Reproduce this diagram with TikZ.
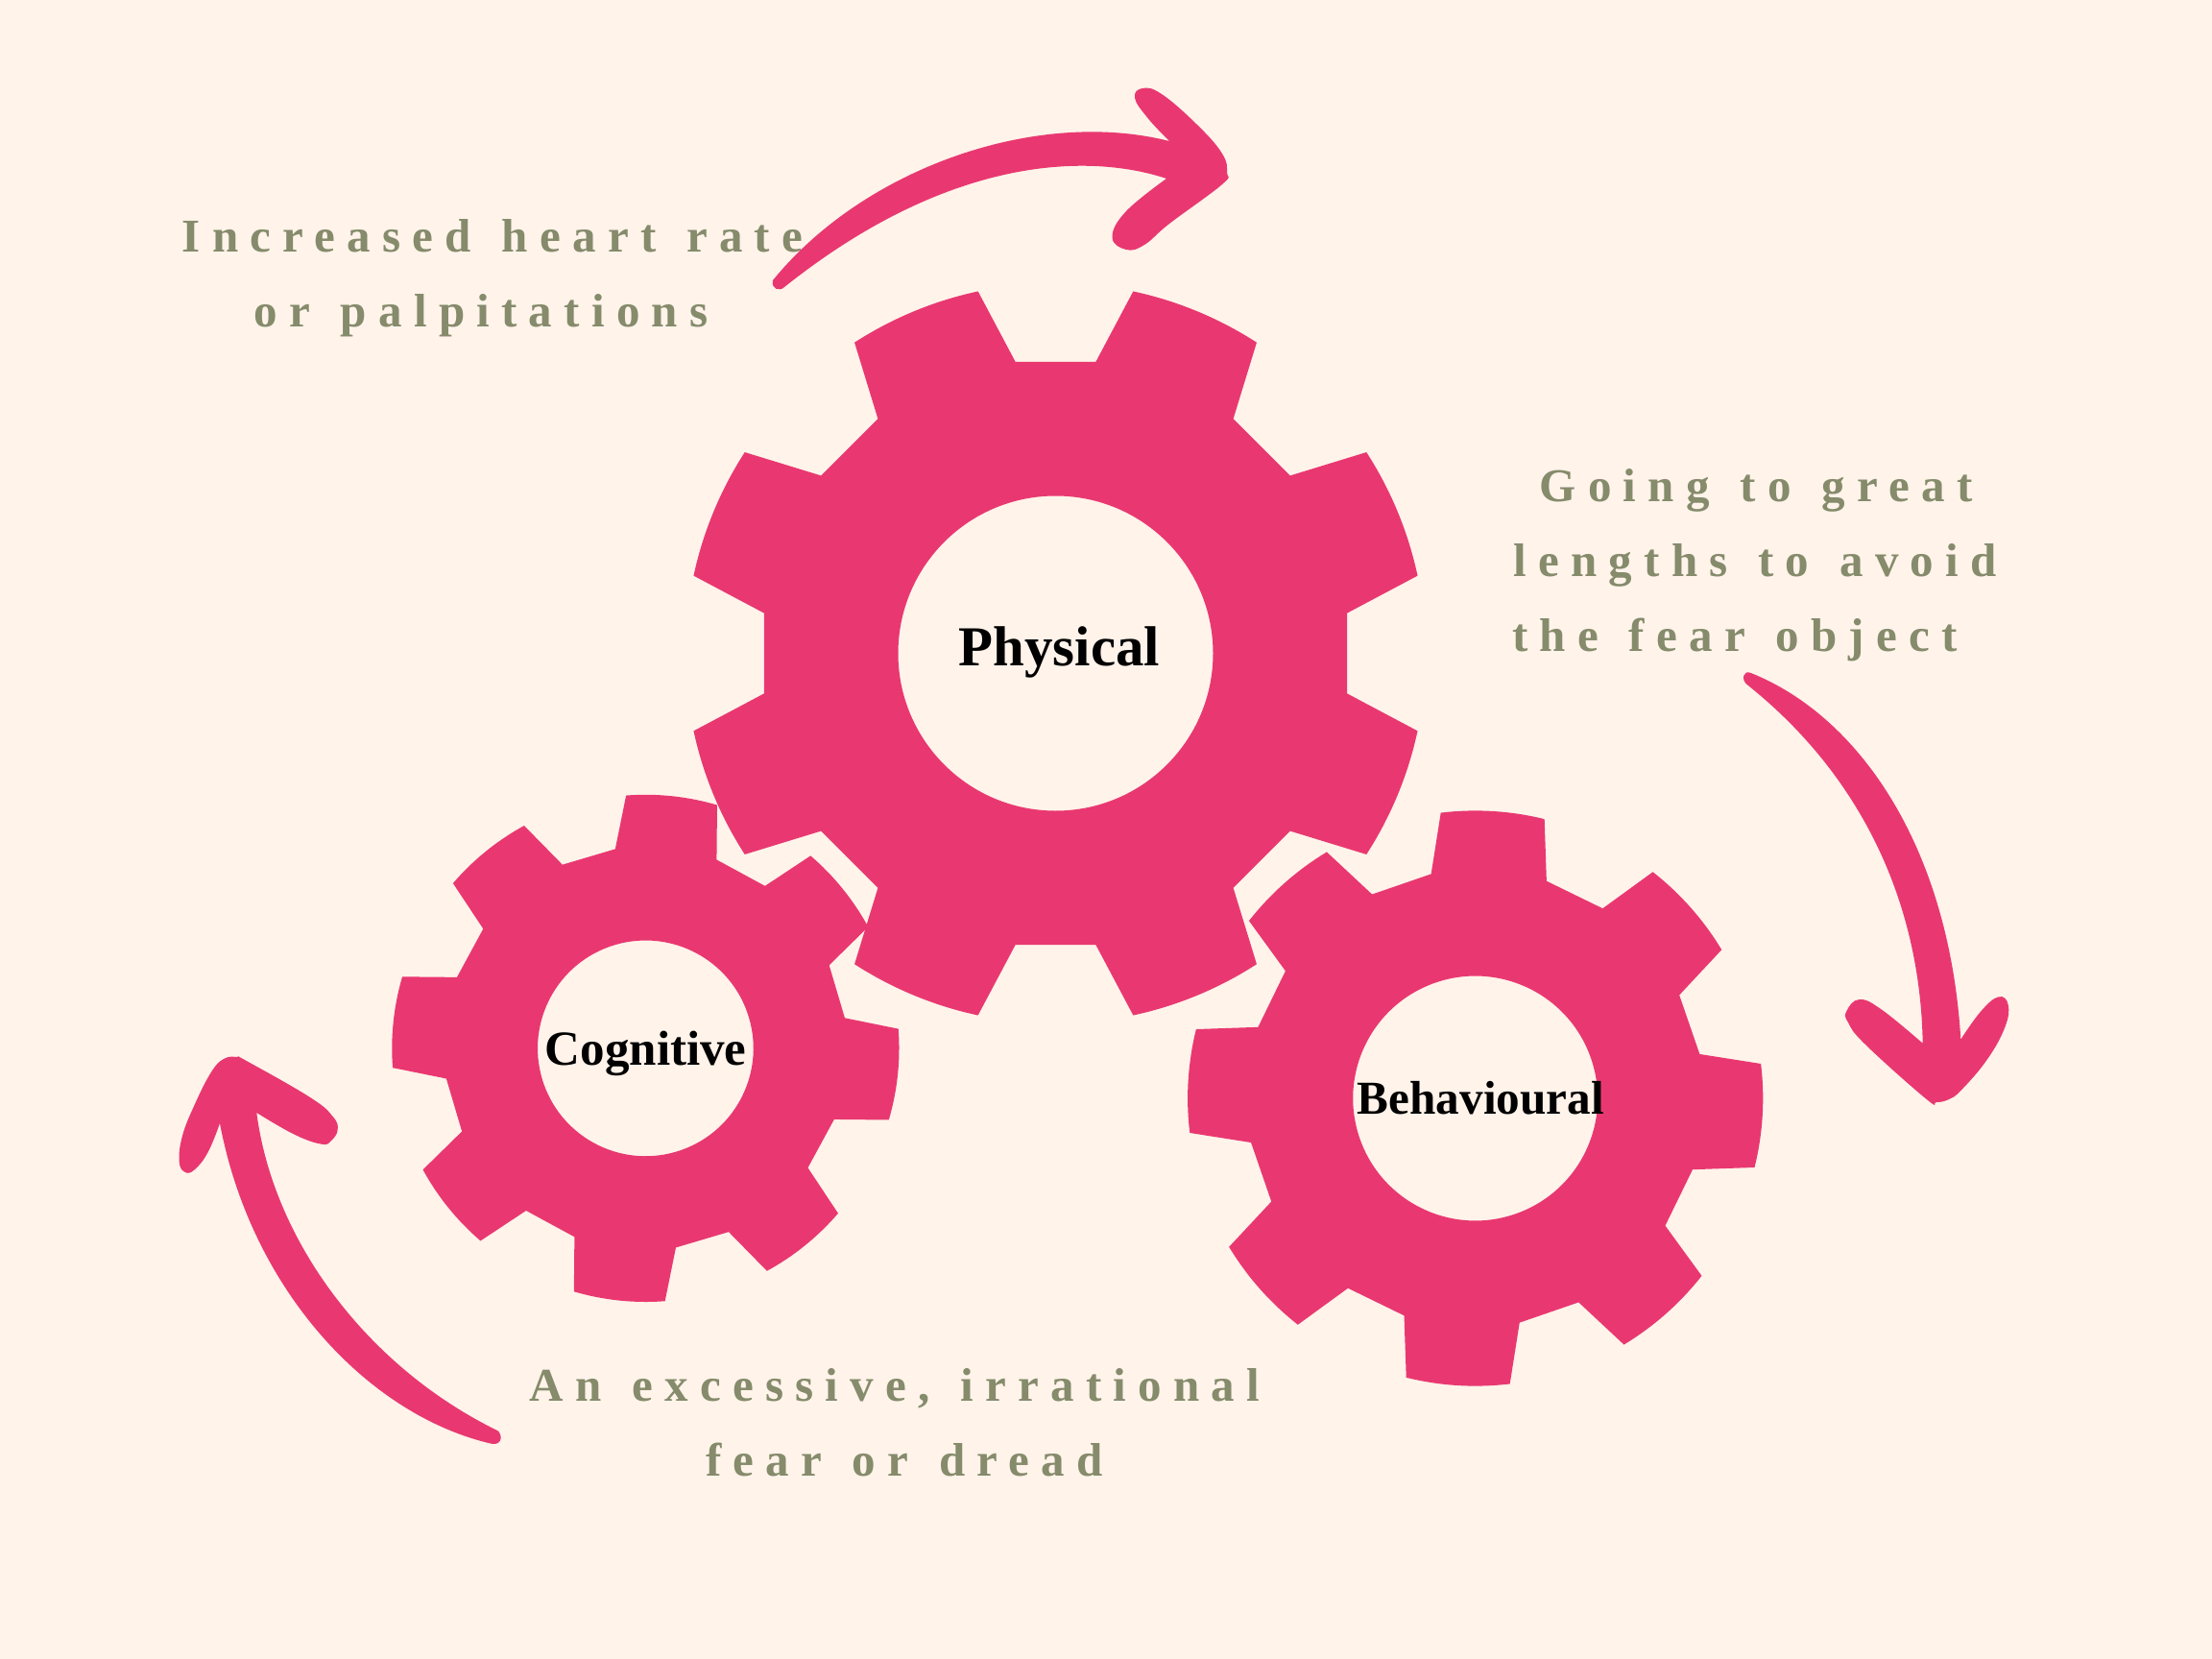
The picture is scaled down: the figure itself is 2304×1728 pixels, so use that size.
\documentclass[tikz,border=0pt]{standalone}
\usepackage{fontspec}
\setmainfont{Liberation Serif}
\newfontfamily\captionfont[LetterSpace=25,WordSpace=1.3]{Liberation Serif}
\usepackage{xcolor}
\definecolor{PageCream}{HTML}{FFF3EA}
\definecolor{GearPink}{HTML}{E93871}
\definecolor{CaptionOlive}{HTML}{858B6B}
\tikzset{
  gearfill/.style={fill=GearPink,even odd rule},
  swoosh/.style={fill=GearPink},
  gearlabel/.style={anchor=base,inner sep=0pt,text=black,font=\bfseries},
  caption/.style={anchor=base,inner sep=0pt,text=CaptionOlive,
    font=\captionfont\bfseries\fontsize{24.5}{28}\selectfont},
  headcurve/.style={smooth,tension=.7},
}
% one cog: centre x, centre y, scale, rotation
\newcommand{\cogwheel}[4]{%
  \begin{scope}[shift={(#1,#2)},rotate=#4,scale=#3]
    \fill[gearfill] (-7.85:153.25pt)
      \foreach \k in {0,...,7}{
        -- ({45*\k+7.85}:153.25pt) -- ({45*\k+12.1}:192.8pt)
        arc[start angle={45*\k+12.1},end angle={45*\k+32.9},radius=192.8pt]
        -- ({45*\k+37.15}:153.25pt)
      } -- cycle
      (0:82pt) arc[start angle=0,end angle=360,radius=82pt];
  \end{scope}}

\begin{document}
\begin{tikzpicture}[x=0.5pt,y=-0.5pt]
  \useasboundingbox (0,0) rectangle (2304,1728);
  \fill[PageCream] (0,0) rectangle (2304,1728);

  \cogwheel{672.4}{1091.9}{0.685}{16.5}
  \cogwheel{1536.7}{1144}{0.777}{19}
  \cogwheel{1099.5}{680.5}{1}{0}

  \node[gearlabel,font=\bfseries\fontsize{29.4}{34}\selectfont] (physical) at (1103.5,693) {Physical};
  \node[gearlabel,font=\bfseries\fontsize{25.5}{30}\selectfont] (cognitive) at (672.8,1109) {Cognitive};
  \node[gearlabel,font=\bfseries\fontsize{24.6}{30}\selectfont] (behavioural) at (1542.4,1160.8) {Behavioural};

  \node[caption] (heartA) at (513,262.5) {Increased heart rate};
  \node[caption] (heartB) at (501,340.5) {or palpitations};
  \node[caption] (avoidA) at (1829,522) {Going to great};
  \node[caption] (avoidB) at (1828,600) {lengths to avoid};
  \node[caption] (avoidC) at (1807,678) {the fear object};
  \node[caption] (dreadA) at (932,1459.5) {An excessive, irrational};
  \node[caption] (dreadB) at (942,1537.5) {fear or dread};

  % top arrow
  \fill[swoosh] (805,292) .. controls (900,175) and (1080,112) .. (1218,147)
    -- plot[headcurve] coordinates {(1218,147) (1195.5,123) (1182,102) (1190,92) (1210,98) (1247,130) (1273,160) (1278,180) (1273,192) (1218,233) (1192,255) (1173,260) (1158.5,247) (1173,220) (1215,186)}
    .. controls (1130,158) and (985,165) .. (817,299)
    .. controls (812,304) and (803,301) .. (805,292) -- cycle;
  % right arrow
  \fill[swoosh] (1823,700.7) .. controls (1935,745) and (2030,880) .. (2042.3,1082.7)
    -- plot[headcurve] coordinates {(2042.3,1082.7) (2063.3,1053.3) (2081.7,1038.3) (2091.7,1046.7) (2088.3,1070) (2070,1103.3) (2043.3,1135) (2030,1145) (2016.7,1148) (2006.7,1145) (1943.3,1088.3) (1925,1065) (1923.3,1053.3) (1936.7,1041) (1960,1051.7) (2002.7,1086.7)}
    .. controls (2000,935) and (1935,805) .. (1820,713.3)
    .. controls (1813,708) and (1816,698) .. (1823,700.7) -- cycle;
  % left arrow
  \fill[swoosh] (513,1504) .. controls (385,1475) and (262,1345) .. (229,1170)
    -- plot[headcurve] coordinates {(229,1170) (216.7,1200) (203,1218) (193,1221) (186.7,1210) (190,1183) (203,1150) (220,1116.7) (233,1103) (246.7,1101) (256.7,1105) (323,1143) (346.7,1163) (351.7,1176.7) (345,1188) (335,1191.7) (306.7,1181.7) (267.3,1159)}
    .. controls (285,1295) and (385,1425) .. (518,1490)
    .. controls (523,1493) and (524,1505) .. (513,1504) -- cycle;
\end{tikzpicture}
\end{document}
